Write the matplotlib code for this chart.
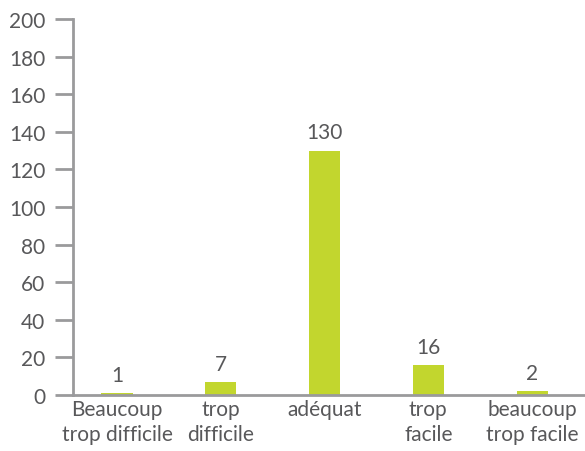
import matplotlib
matplotlib.use("Agg")
import matplotlib.pyplot as plt

# Données du graphique
categories = ["Beaucoup\ntrop difficile", "trop\ndifficile", "adéquat", "trop\nfacile", "beaucoup\ntrop facile"]
valeurs = [1, 7, 130, 16, 2]
yticks = list(range(0, 201, 20))

couleur_barre = "#c2d62e"
couleur_axe = "#9a9a9c"
couleur_texte = "#58585a"

plt.rcParams["font.family"] = ["Lato", "DejaVu Sans"]
taille = 15

fig = plt.figure(figsize=(5.85, 4.52), dpi=100)
ax = fig.add_axes([73 / 585, 56 / 452, 1 - 73 / 585, 376 / 452])

x = list(range(len(categories)))
ax.bar(x, valeurs, width=0.3, color=couleur_barre, zorder=2)

# Étiquettes au-dessus des barres
for xi, v in zip(x, valeurs):
    ax.annotate(str(v), (xi, v), xytext=(0, 6), textcoords="offset points",
                ha="center", va="bottom", fontsize=taille, color=couleur_texte)

ax.set_xlim(-0.424, 4.51)
ax.set_ylim(0, 200)
ax.set_yticks(yticks)
ax.set_xticks(x)
ax.set_xticklabels(categories, fontsize=taille, color=couleur_texte, linespacing=1.3)

for side in ["top", "right"]:
    ax.spines[side].set_visible(False)
for side in ["left", "bottom"]:
    ax.spines[side].set_color(couleur_axe)
    ax.spines[side].set_linewidth(2)
    ax.spines[side].set_zorder(3)

ax.tick_params(axis="y", length=13, width=2, color=couleur_axe, labelsize=taille,
               labelcolor=couleur_texte, pad=7)
ax.tick_params(axis="x", length=0, pad=3)

fig.savefig("out.png", dpi=100)
